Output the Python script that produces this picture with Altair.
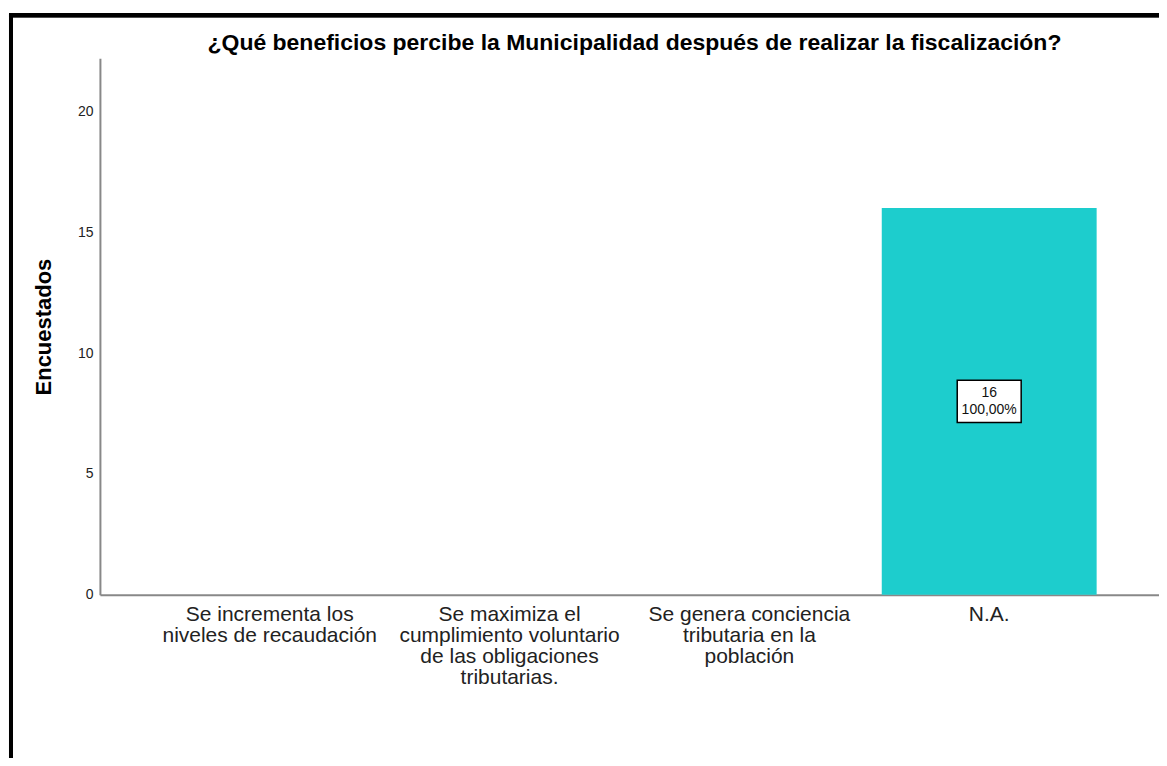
import altair as alt
import pandas as pd

categories = [
    "Se incrementa los|niveles de recaudación",
    "Se maximiza el|cumplimiento voluntario|de las obligaciones|tributarias.",
    "Se genera conciencia|tributaria en la|población",
    "N.A.",
]
counts = [0, 0, 0, 16]
percents = ["0,00%", "0,00%", "0,00%", "100,00%"]

title_text = "¿Qué beneficios percibe la Municipalidad después de realizar la fiscalización?"

df = pd.DataFrame({
    "categoria": categories,
    "encuestados": counts,
    "pct": percents,
})
df["etiqueta"] = [f"{c}|{p}" for c, p in zip(counts, percents)]
df["mitad"] = [c / 2 for c in counts]

FONT = "Liberation Sans"

x_enc = alt.X(
    "categoria:N",
    sort=categories,
    scale=alt.Scale(paddingInner=0.104, paddingOuter=0.26),
    axis=alt.Axis(
        title=None,
        labelAngle=0,
        labelExpr="split(datum.label, '|')",
        labelFontSize=21,
        labelLineHeight=21,
        labelColor="#222222",
        labelFont=FONT,
        labelBaseline="top",
        labelPadding=9,
        labelLimit=0,
        ticks=False,
        domainColor="#888888",
        domainWidth=2,
    ),
)

bars = alt.Chart(df).mark_bar(color="#1DCDCD").encode(
    x=x_enc,
    y=alt.Y(
        "encuestados:Q",
        scale=alt.Scale(domain=[0, 22.2], nice=False),
        axis=alt.Axis(
            title="Encuestados",
            titleFontSize=22,
            titleFont=FONT,
            titleFontWeight="bold",
            titleColor="#000000",
            titlePadding=22,
            values=[0, 5, 10, 15, 20],
            labelFontSize=14,
            labelFont=FONT,
            labelColor="#222222",
            labelPadding=7,
            ticks=False,
            grid=False,
            domainColor="#888888",
            domainWidth=2,
        ),
    ),
)

box_path = "M-1,-0.66L1,-0.66L1,0.66L-1,0.66Z"
boxes = alt.Chart(df).transform_filter("datum.encuestados > 0").mark_point(
    shape=box_path, size=4096, filled=True, fill="white", stroke="black",
    strokeWidth=1.5, opacity=1,
).encode(
    x=alt.X("categoria:N", sort=categories),
    y=alt.Y("mitad:Q"),
)

labels = alt.Chart(df).transform_filter("datum.encuestados > 0").mark_text(
    lineBreak="|", fontSize=14, font=FONT, color="#111111", lineHeight=17,
    baseline="middle", dy=-8,
).encode(
    x=alt.X("categoria:N", sort=categories),
    y=alt.Y("mitad:Q"),
    text="etiqueta:N",
)

title_mark = alt.Chart(pd.DataFrame({"t": [title_text]})).mark_text(
    font=FONT, fontSize=23, fontWeight="bold", color="#000000",
    align="center", baseline="alphabetic",
).encode(
    x=alt.value(535), y=alt.value(-8), text="t:N"
)

border_top = alt.Chart(df).mark_rule(color="black", strokeWidth=4).encode(
    x=alt.value(-91), x2=alt.value(1100), y=alt.value(-43)
)
border_left = alt.Chart(df).mark_rule(color="black", strokeWidth=4).encode(
    x=alt.value(-89), y=alt.value(-45), y2=alt.value(800)
)

chart = alt.layer(bars, boxes, labels, title_mark, border_top, border_left).properties(
    width=1060,
    height=537,
    background="white",
    autosize=alt.AutoSizeParams(type="none"),
    padding={"left": 92, "top": 50, "right": 0, "bottom": 163},
).configure_view(stroke=None, strokeWidth=0)

chart.save("out.html", embed_options={"renderer": "svg", "actions": False})
